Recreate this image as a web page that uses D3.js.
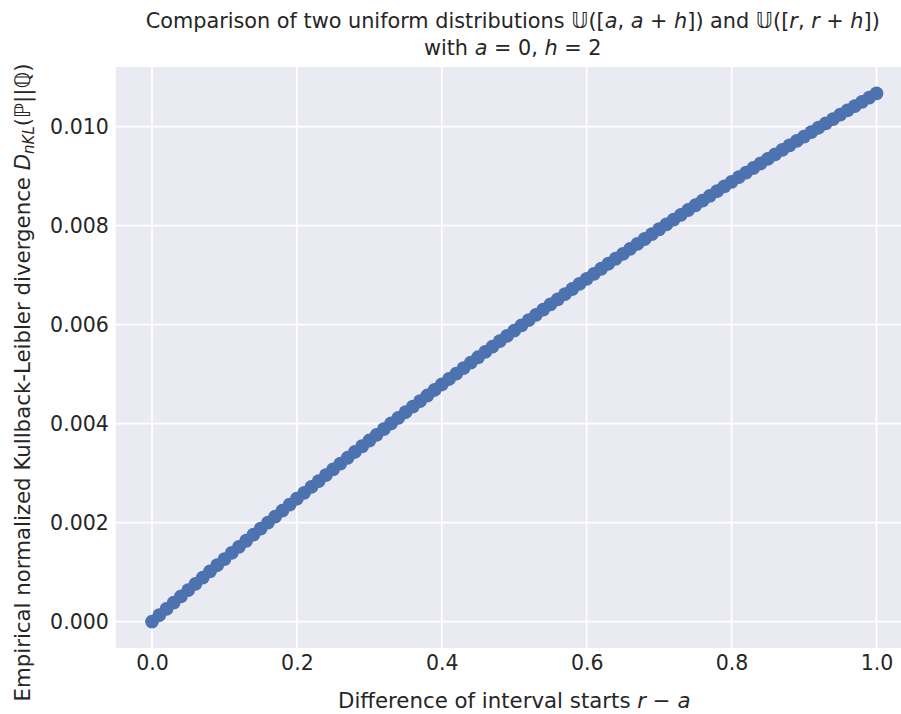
<!DOCTYPE html>
<html>
<head>
<meta charset="utf-8">
<script src="https://cdn.jsdelivr.net/npm/d3@7"></script>
<style>
  html, body { margin: 0; padding: 0; background: #ffffff; }
  svg text { font-family: "DejaVu Sans", sans-serif; fill: #262626; }
</style>
</head>
<body>
<svg id="chart" width="901" height="714"></svg>
<script>
// Offset between interval starts, r - a
const shifts = d3.range(0, 101).map(i => i / 100);

// Empirical normalized KL divergence for each offset
const divergence = [
  0.0000000, 0.0001282, 0.0002560, 0.0003834, 0.0005103, 0.0006368, 0.0007629, 0.0008885, 0.0010137, 0.0011384,
  0.0012628, 0.0013866, 0.0015101, 0.0016331, 0.0017557, 0.0018778, 0.0019995, 0.0021208, 0.0022416, 0.0023620,
  0.0024820, 0.0026015, 0.0027206, 0.0028393, 0.0029575, 0.0030753, 0.0031927, 0.0033096, 0.0034261, 0.0035421,
  0.0036578, 0.0037729, 0.0038877, 0.0040020, 0.0041159, 0.0042293, 0.0043423, 0.0044549, 0.0045670, 0.0046787,
  0.0047900, 0.0049008, 0.0050112, 0.0051212, 0.0052307, 0.0053398, 0.0054485, 0.0055567, 0.0056645, 0.0057718,
  0.0058788, 0.0059852, 0.0060913, 0.0061969, 0.0063021, 0.0064068, 0.0065111, 0.0066150, 0.0067184, 0.0068214,
  0.0069240, 0.0070261, 0.0071278, 0.0072291, 0.0073299, 0.0074303, 0.0075303, 0.0076298, 0.0077289, 0.0078275,
  0.0079258, 0.0080235, 0.0081209, 0.0082178, 0.0083143, 0.0084103, 0.0085059, 0.0086011, 0.0086958, 0.0087901,
  0.0088840, 0.0089774, 0.0090704, 0.0091630, 0.0092551, 0.0093468, 0.0094381, 0.0095289, 0.0096193, 0.0097092,
  0.0097988, 0.0098878, 0.0099765, 0.0100647, 0.0101525, 0.0102398, 0.0103267, 0.0104132, 0.0104992, 0.0105848,
  0.0106700
];

const xTicks = [0.0, 0.2, 0.4, 0.6, 0.8, 1.0];
const yTicks = [0.000, 0.002, 0.004, 0.006, 0.008, 0.010];

const svg = d3.select("#chart");
const plot = { left: 115.8, right: 912.7, top: 67, bottom: 648 };

const x = d3.scaleLinear().domain([-0.05, 1.05]).range([plot.left, plot.right]);
const y = d3.scaleLinear().domain([-0.0005335, 0.0112035]).range([plot.bottom, plot.top]);

// Axes background
svg.append("rect")
  .attr("x", plot.left).attr("y", plot.top)
  .attr("width", plot.right - plot.left).attr("height", plot.bottom - plot.top)
  .attr("fill", "#eaeaf2");

// Grid lines
const grid = svg.append("g").attr("stroke", "#ffffff").attr("stroke-width", 1.7);
grid.selectAll("line.gx").data(xTicks).join("line")
  .attr("x1", d => x(d)).attr("x2", d => x(d))
  .attr("y1", plot.top).attr("y2", plot.bottom);
grid.selectAll("line.gy").data(yTicks).join("line")
  .attr("x1", plot.left).attr("x2", plot.right)
  .attr("y1", d => y(d)).attr("y2", d => y(d));

// Tick labels through d3 axes (no domain line, no tick marks)
const tickFont = 20.5;
const xAxis = svg.append("g")
  .attr("transform", `translate(0,${plot.bottom})`)
  .call(d3.axisBottom(x).tickValues(xTicks).tickFormat(d3.format(".1f")).tickSize(0).tickPadding(7));
const yAxis = svg.append("g")
  .attr("transform", `translate(${plot.left},0)`)
  .call(d3.axisLeft(y).tickValues(yTicks).tickFormat(d3.format(".3f")).tickSize(0).tickPadding(7));
[xAxis, yAxis].forEach(a => {
  a.select(".domain").remove();
  a.selectAll("text").attr("font-size", tickFont).attr("font-family", "DejaVu Sans").attr("fill", "#262626");
});

// Data points
svg.append("g")
  .selectAll("circle")
  .data(shifts.map((s, i) => [s, divergence[i]]))
  .join("circle")
  .attr("cx", d => x(d[0]))
  .attr("cy", d => y(d[1]))
  .attr("r", 6.9)
  .attr("fill", "#4c72b0");

const labelFont = 21.3;

// Title (two lines)
const cx = (plot.left + plot.right) / 2;
const t1 = svg.append("text").attr("x", cx - 1.5).attr("y", 28).attr("text-anchor", "middle").attr("font-size", 20.8);
t1.append("tspan").text("Comparison of two uniform distributions ");
t1.append("tspan").text("𝕌");
t1.append("tspan").text("([");
t1.append("tspan").attr("font-style", "italic").text("a");
t1.append("tspan").text(", ");
t1.append("tspan").attr("font-style", "italic").text("a");
t1.append("tspan").text(" + ");
t1.append("tspan").attr("font-style", "italic").text("h");
t1.append("tspan").text("]) and ");
t1.append("tspan").text("𝕌");
t1.append("tspan").text("([");
t1.append("tspan").attr("font-style", "italic").text("r");
t1.append("tspan").text(", ");
t1.append("tspan").attr("font-style", "italic").text("r");
t1.append("tspan").text(" + ");
t1.append("tspan").attr("font-style", "italic").text("h");
t1.append("tspan").text("])");

const t2 = svg.append("text").attr("x", cx - 1.5).attr("y", 55).attr("text-anchor", "middle").attr("font-size", 20.8);
t2.append("tspan").text("with ");
t2.append("tspan").attr("font-style", "italic").text("a");
t2.append("tspan").text(" = 0, ");
t2.append("tspan").attr("font-style", "italic").text("h");
t2.append("tspan").text(" = 2");

// X axis label
const xl = svg.append("text").attr("x", cx).attr("y", 708).attr("text-anchor", "middle").attr("font-size", labelFont);
xl.append("tspan").text("Difference of interval starts ");
xl.append("tspan").attr("font-style", "italic").text("r");
xl.append("tspan").text(" − ");
xl.append("tspan").attr("font-style", "italic").text("a");

// Y axis label
const yl = svg.append("text")
  .attr("transform", `translate(30,${(plot.top + plot.bottom) / 2 + 25}) rotate(-90)`)
  .attr("text-anchor", "middle").attr("font-size", labelFont);
yl.append("tspan").text("Empirical normalized Kullback-Leibler divergence ");
yl.append("tspan").attr("font-style", "italic").text("D");
yl.append("tspan").attr("font-style", "italic").attr("font-size", 15).attr("dy", 3.5).text("nKL");
yl.append("tspan").attr("dy", -3.5).text("(ℙ||ℚ)");
</script>
</body>
</html>
